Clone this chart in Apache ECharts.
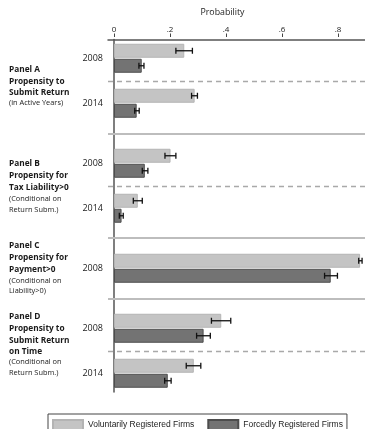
<!DOCTYPE html>
<html>
<head>
<meta charset="utf-8">
<script src="https://cdn.jsdelivr.net/npm/echarts@6/dist/echarts.min.js"></script>
<style>
  html, body { margin: 0; padding: 0; background: #fff; }
  #chart { width: 365px; height: 429px; }
</style>
</head>
<body>
<div id="chart"></div>
<script>
// Rows, top to bottom: panel letter and survey year
const panels = ['A', 'A', 'B', 'B', 'C', 'D', 'D'];
const years = ['2008', '2014', '2008', '2014', '2008', '2008', '2014'];

// Voluntarily registered firms: estimate and 95% interval
const voluntary   = [0.251, 0.288, 0.202, 0.085, 0.879, 0.383, 0.285];
const voluntaryLo = [0.221, 0.277, 0.182, 0.069, 0.874, 0.348, 0.258];
const voluntaryHi = [0.280, 0.298, 0.221, 0.101, 0.886, 0.417, 0.310];

// Forcedly registered firms: estimate and 95% interval
const forced   = [0.099, 0.081, 0.110, 0.027, 0.774, 0.320, 0.192];
const forcedLo = [0.089, 0.074, 0.101, 0.019, 0.752, 0.295, 0.181];
const forcedHi = [0.107, 0.090, 0.121, 0.033, 0.798, 0.344, 0.204];

const xTicks = [0, 0.2, 0.4, 0.6, 0.8];
const seriesNames = ['Voluntarily Registered Firms', 'Forcedly Registered Firms'];

// Panel captions: [text, bold]
const captions = {
  A: [['Panel A', 1], ['Propensity to', 1], ['Submit Return', 1], ['(in Active Years)', 0]],
  B: [['Panel B', 1], ['Propensity for', 1], ['Tax Liability>0', 1], ['(Conditional on', 0], ['Return Subm.)', 0]],
  C: [['Panel C', 1], ['Propensity for', 1], ['Payment>0', 1], ['(Conditional on', 0], ['Liability>0)', 0]],
  D: [['Panel D', 1], ['Propensity to', 1], ['Submit Return', 1], ['on Time', 1], ['(Conditional on', 0], ['Return Subm.)', 0]]
};

// ---- build the slotted category axis (spacer slots between rows / panels)
const LEAD = 2, WITHIN = 6, BETWEEN = 8, TRAIL = 2;
const rowSlot = [];
let s = LEAD;
panels.forEach((p, i) => {
  if (i > 0) s += (p === panels[i - 1]) ? WITHIN : BETWEEN;
  rowSlot.push(s);
});
const nSlots = rowSlot[rowSlot.length - 1] + 1 + TRAIL;
const cats = [];
for (let k = 0; k < nSlots; k++) cats.push('gap' + k);
rowSlot.forEach((k, i) => { cats[k] = panels[i] + '|' + years[i]; });

const volData = cats.map(() => null);
const forData = cats.map(() => null);
rowSlot.forEach((k, i) => { volData[k] = voluntary[i]; forData[k] = forced[i]; });

// separators midway between neighbouring rows (referenced by category name)
const solidSeps = [], dashedSeps = [];
for (let i = 1; i < rowSlot.length; i++) {
  const mid = cats[(rowSlot[i] + rowSlot[i - 1]) / 2];
  (panels[i] === panels[i - 1] ? dashedSeps : solidSeps).push(mid);
}

const BAR_W = 14, BAR_GAP = 1;
const errData = [];
rowSlot.forEach((k, i) => {
  errData.push([voluntaryLo[i], voluntaryHi[i], k, -1]);
  errData.push([forcedLo[i], forcedHi[i], k, 1]);
});

// ---- panel caption graphics
const captionY = {
  A: [69.3, 81.3, 92.5, 103],
  B: [164, 175.7, 187.3, 199.3, 210],
  C: [245.3, 257.7, 269.3, 280.7, 291],
  D: [316.7, 328.7, 340.7, 352, 362.3, 372.7]
};
const graphics = [];
Object.keys(captions).forEach(p => {
  captions[p].forEach(([t, b], j) => {
    graphics.push({
      type: 'text', x: 9, y: captionY[p][j], silent: true,
      style: {
        text: t,
        font: b ? 'bold 8.3px "Open Sans"' : '7.4px "Open Sans"',
        fill: '#1a1a1a', align: 'left', verticalAlign: 'middle'
      }
    });
  });
});
graphics.push({
  type: 'text', x: 222.5, y: 12.5, silent: true,
  style: { text: 'Probability', font: '8.8px "Open Sans"', fill: '#222', align: 'center', verticalAlign: 'middle' }
});

const X_MIN = -6 / 280, X_MAX = 257 / 280 - 6 / 280;

const chart = echarts.init(document.getElementById('chart'), null, { renderer: 'canvas' });
chart.setOption({
  animation: false,
  backgroundColor: '#fff',
  graphic: graphics,
  grid: { left: 108, right: 0, top: 39.5, bottom: 37, containLabel: false },
  xAxis: [
    {
      type: 'value', position: 'top', min: X_MIN, max: X_MAX,
      axisLine: { show: true, lineStyle: { color: '#555', width: 1.5 } },
      axisTick: { show: false }, axisLabel: { show: false }, splitLine: { show: false }
    },
    {
      type: 'value', position: 'top', offset: 2.5, min: X_MIN, max: X_MAX,
      axisLine: { show: false },
      axisTick: { show: true, length: 3.5, customValues: xTicks, lineStyle: { color: '#444', width: 1 } },
      axisLabel: {
        show: true, customValues: xTicks, margin: 3,
        fontFamily: 'Open Sans', fontSize: 8, color: '#222',
        formatter: v => v === 0 ? '0' : String(+v.toFixed(1)).replace(/^0/, '')
      },
      splitLine: { show: false }
    }
  ],
  yAxis: {
    type: 'category', inverse: true, data: cats,
    axisLine: { show: true, lineStyle: { color: '#555', width: 1.5 } },
    axisTick: { show: false },
    axisLabel: {
      interval: 0, margin: 5, fontFamily: 'Open Sans', fontSize: 9, color: '#222',
      formatter: v => v.indexOf('|') >= 0 ? v.split('|')[1] : ''
    },
    splitLine: { show: false }
  },
  legend: {
    data: seriesNames.map(n => ({ name: n, icon: 'rect' })),
    left: 48, top: 414, orient: 'horizontal',
    itemWidth: 30, itemHeight: 10, itemGap: 13,
    padding: [5, 4, 6, 4],
    borderColor: '#444', borderWidth: 1, borderRadius: 0,
    textStyle: { fontFamily: 'Liberation Sans', fontSize: 8.5, color: '#222' },
    selectedMode: false
  },
  series: [
    {
      // panel and year separators
      name: 'separators', type: 'line', data: cats.map(() => null),
      showSymbol: false, silent: true, z: 1,
      markLine: {
        silent: true, symbol: 'none', label: { show: false }, animation: false,
        data: [
          ...solidSeps.map(v => ({ yAxis: v, lineStyle: { type: 'solid', color: '#bdbdbd', width: 2 } })),
          ...dashedSeps.map(v => ({ yAxis: v, lineStyle: { type: [5, 4], color: '#a9a9a9', width: 1.4 } }))
        ]
      }
    },
    {
      name: seriesNames[0], type: 'bar', data: volData,
      barWidth: BAR_W, barGap: (BAR_GAP / BAR_W * 100) + '%',
      itemStyle: { color: '#c4c4c4', borderColor: '#b4b4b4', borderWidth: 1 }
    },
    {
      name: seriesNames[1], type: 'bar', data: forData,
      barWidth: BAR_W,
      itemStyle: { color: '#737373', borderColor: '#4d4d4d', borderWidth: 1 }
    },
    {
      name: 'ci', type: 'custom', data: errData,
      encode: { x: [0, 1], y: 2 },
      renderItem: (params, api) => {
        const k = api.value(2);
        const side = api.value(3);
        const yc = api.coord([0, k])[1] + side * (BAR_W + BAR_GAP) / 2;
        const x1 = api.coord([api.value(0), k])[0];
        const x2 = api.coord([api.value(1), k])[0];
        const st = { stroke: '#111', lineWidth: 1.3 };
        return {
          type: 'group', children: [
            { type: 'line', shape: { x1, y1: yc, x2, y2: yc }, style: st },
            { type: 'line', shape: { x1, y1: yc - 3, x2: x1, y2: yc + 3 }, style: st },
            { type: 'line', shape: { x1: x2, y1: yc - 3, x2, y2: yc + 3 }, style: st }
          ]
        };
      },
      z: 5
    }
  ]
});
</script>
</body>
</html>
